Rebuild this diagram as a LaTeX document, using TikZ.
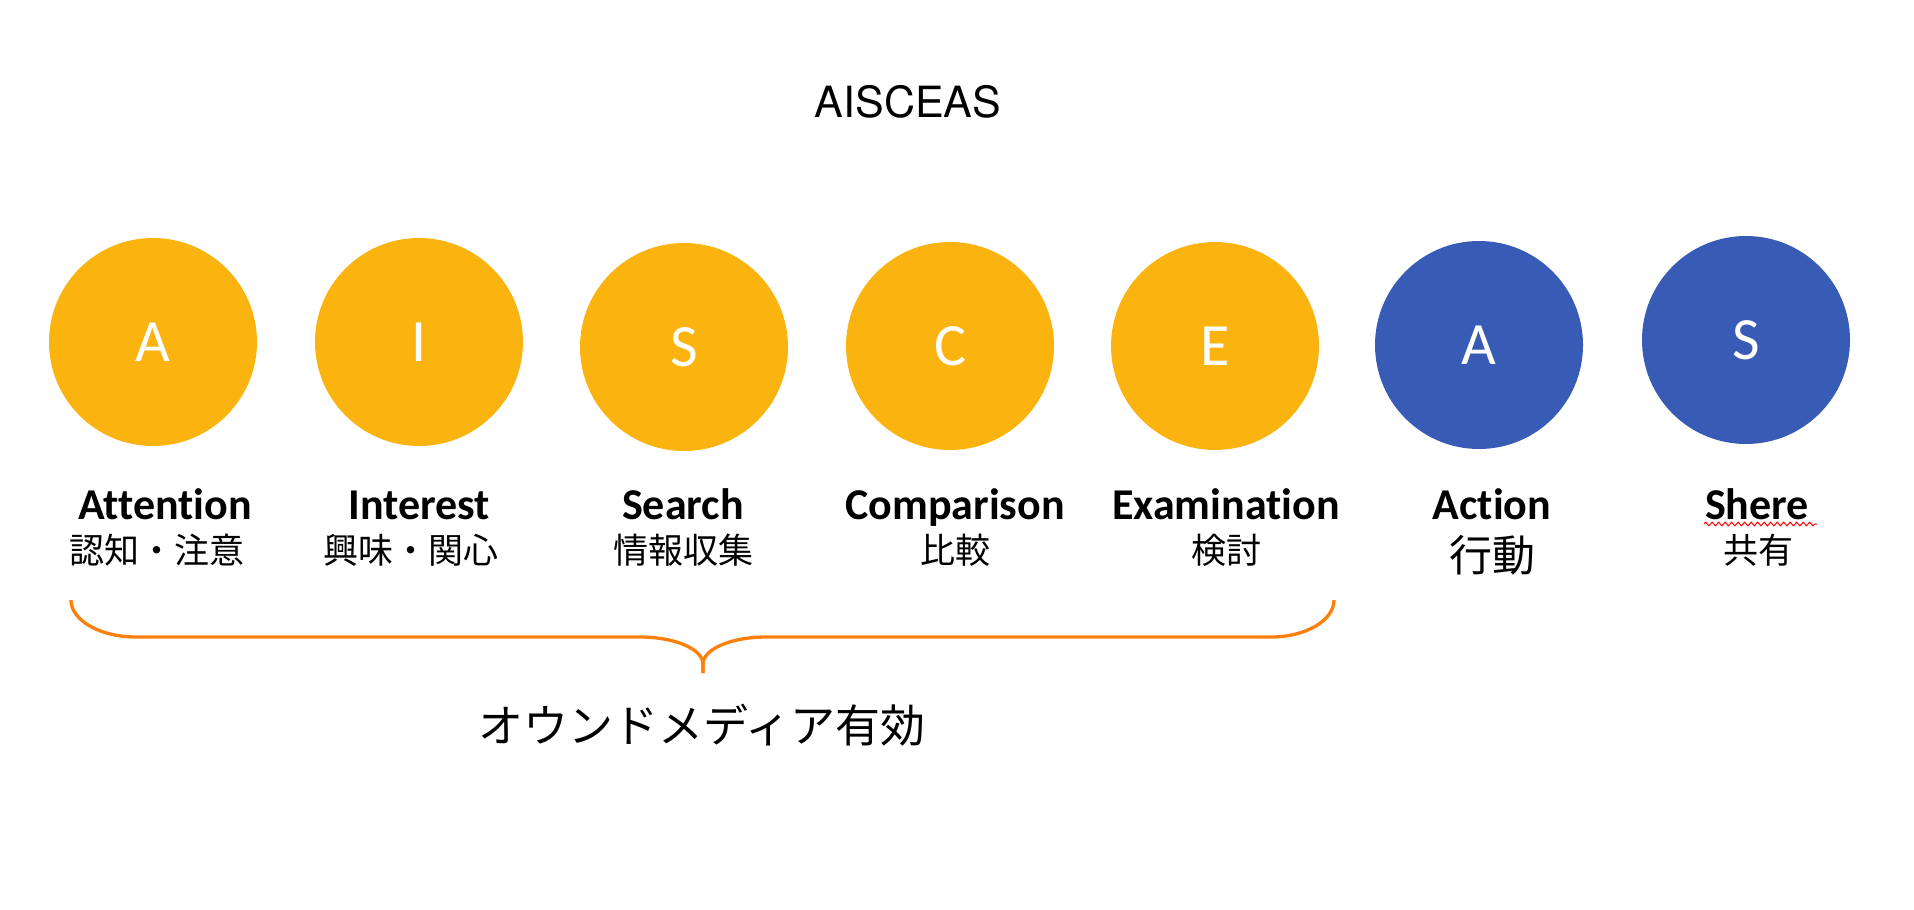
\documentclass[tikz,border=0pt]{standalone}
\usepackage{fontspec}
\setmainfont{Carlito}[Ligatures=NoCommon]
\newfontfamily\jpfont{Noto Sans CJK JP}
\newfontfamily\titlefont{TeX Gyre Heros}
\usetikzlibrary{decorations.pathmorphing}
\definecolor{stagegold}{HTML}{FBB40F}
\definecolor{stageblue}{HTML}{385CB5}
\definecolor{braceorange}{HTML}{FC7F0C}
\begin{document}
\begin{tikzpicture}[x=1pt,y=-1pt,
  stage/.style={circle, minimum size=208pt, inner sep=0pt, text=white,
    font=\fontsize{60}{60}\selectfont},
  goldstage/.style={stage, fill=stagegold},
  bluestage/.style={stage, fill=stageblue},
  enlabel/.style={anchor=base, inner sep=0pt, font=\bfseries\fontsize{44}{44}\selectfont},
  jplabel/.style={inner sep=0pt, font=\jpfont\fontsize{35}{35}\selectfont},
  bracepath/.style={draw=braceorange, line width=3.3pt},
  spellwave/.style={draw=red, line width=1pt, decorate,
    decoration={zigzag, segment length=6.5pt, amplitude=1.8pt}}
]
\useasboundingbox (0,0) rectangle (1914,910);

% title
\node[anchor=base, inner sep=0pt, font=\titlefont\fontsize{43}{43}\selectfont] (title) at (908,117) {AISCEAS};

% stage circles
\node[goldstage] (cA) at (153,342) {A};
\node[goldstage] (cI) at (419,342) {I};
\node[goldstage] (cS) at (684,347) {S};
\node[goldstage] (cC) at (950,346) {C};
\node[goldstage] (cE) at (1215,346) {E};
\node[bluestage] (cA2) at (1479,345) {A};
\node[bluestage] (cS2) at (1746,340) {S};

% English labels
\node[enlabel] (lA) at (165,519) {Attention};
\node[enlabel] (lI) at (419,519) {Interest};
\node[enlabel] (lS) at (683,519) {Search};
\node[enlabel] (lC) at (955,519) {Comparison};
\node[enlabel] (lE) at (1226,519) {Examination};
\node[enlabel] (lA2) at (1492,519) {Action};
\node[enlabel] (lS2) at (1757,519) {Shere};

% Japanese labels
\node[jplabel] (jA) at (157,550) {認知・注意};
\node[jplabel] (jI) at (411,550) {興味・関心};
\node[jplabel] (jS) at (683,550) {情報収集};
\node[jplabel] (jC) at (955,550) {比較};
\node[jplabel] (jE) at (1226,550) {検討};
\node[jplabel, font=\jpfont\fontsize{43}{43}\selectfont] (jA2) at (1492,555) {行動};
\node[jplabel] (jS2) at (1758,550) {共有};

% spell-check squiggle under "Shere"
\coordinate (waveL) at (1704,524);
\coordinate (waveR) at (1817,524);
\draw[spellwave] (waveL) -- (waveR);

% brace
\coordinate (bL) at (71,600);
\coordinate (bLh) at (136,637);
\coordinate (bMl) at (640,637);
\coordinate (bMv) at (703,664);
\coordinate (bTip) at (703,673);
\coordinate (bMr) at (766,637);
\coordinate (bRh) at (1271,637);
\coordinate (bR) at (1334,600);
\draw[bracepath]
  (bL) .. controls (71,620.4) and (100.1,637) .. (bLh)
  -- (bMl) .. controls (674.8,637) and (703,649.1) .. (bMv)
  -- (bTip);
\draw[bracepath]
  (bTip) -- (bMv) .. controls (703,649.1) and (731.2,637) .. (bMr)
  -- (bRh) .. controls (1305.9,637) and (1334,620.4) .. (bR);

% brace caption
\node[inner sep=0pt, font=\jpfont\fontsize{45}{45}\selectfont] (caption) at (702,725) {オウンドメディア有効};
\end{tikzpicture}
\end{document}
